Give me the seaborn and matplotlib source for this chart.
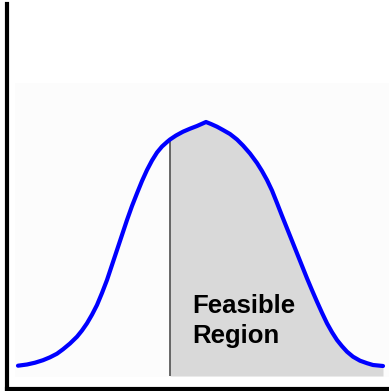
import numpy as np
import pandas as pd
import matplotlib
matplotlib.use("Agg")
import matplotlib.pyplot as plt
import seaborn as sns

# bell curve (x position, height above baseline)
curve_x = [18, 27, 35, 43, 50, 57, 63, 70, 77, 82, 87, 92, 97, 102, 107, 112,
           117, 122, 127, 132, 137, 142, 147, 152, 157, 162, 167, 170, 176, 183,
           190, 197, 206, 211, 217, 223, 230, 237, 243, 250, 257, 262, 267, 272,
           277, 282, 287, 292, 297, 302, 307, 312, 317, 322, 327, 332, 337, 342,
           347, 353, 360, 367, 373, 383]
curve_y = [10.3, 11.5, 13.3, 15.8, 18.7, 22.3, 26.7, 32.5, 39.3, 45.5, 52.7,
           61.3, 71, 83, 96, 111, 126, 141, 156, 170, 182.7, 195, 206, 215.5,
           223.5, 229.5, 234, 236.5, 240.5, 244.3, 247.3, 250, 254, 252, 249.3,
           246, 242, 236.5, 230.5, 222.5, 213, 205, 196, 185.5, 173, 160.2,
           147.7, 135.2, 122.7, 110.2, 97.7, 85.8, 74.3, 63.2, 52.7, 43.8, 36,
           29.8, 24.3, 19.3, 15.3, 12.8, 11, 10]
cutoff = 170
label = "Feasible\nRegion"

sns.set_theme(style="white")
plt.rcParams["font.family"] = ["Liberation Sans", "DejaVu Sans"]

df = pd.DataFrame({"x": curve_x, "y": curve_y})

fig = plt.figure(figsize=(3.89, 3.91), dpi=100)
ax = fig.add_axes([7 / 389, 2 / 391, 382 / 389, 385 / 391])
ax.set_xlim(7, 389)
ax.set_ylim(-13, 372)

# very faint backdrop panel
ax.fill_between([15, 389], -1, 293, color="#fcfcfc", lw=0, zorder=0)

# shaded feasible region right of the cutoff
right = df[df["x"] >= cutoff]
ax.fill_between(right["x"], 0, right["y"], color="#d9d9d9", lw=0, zorder=1)
ax.vlines(cutoff, 0, np.interp(cutoff, df["x"], df["y"]),
          color="#404040", lw=1.1, zorder=2)

sns.lineplot(data=df, x="x", y="y", color="#0000ff", lw=3, ax=ax, zorder=3)
for ln in ax.get_lines():
    ln.set_solid_joinstyle("round")
    ln.set_solid_capstyle("round")

ax.text(192, 32.7, label, fontsize=18.5, fontweight="bold", color="black",
        ha="left", va="baseline", linespacing=1.34, zorder=4)

ax.set_xlabel("")
ax.set_ylabel("")
ax.set_xticks([])
ax.set_yticks([])
for side in ["top", "right"]:
    ax.spines[side].set_visible(False)
for side in ["left", "bottom"]:
    ax.spines[side].set_color("black")
    ax.spines[side].set_linewidth(3)

fig.savefig("out.png", dpi=100)
